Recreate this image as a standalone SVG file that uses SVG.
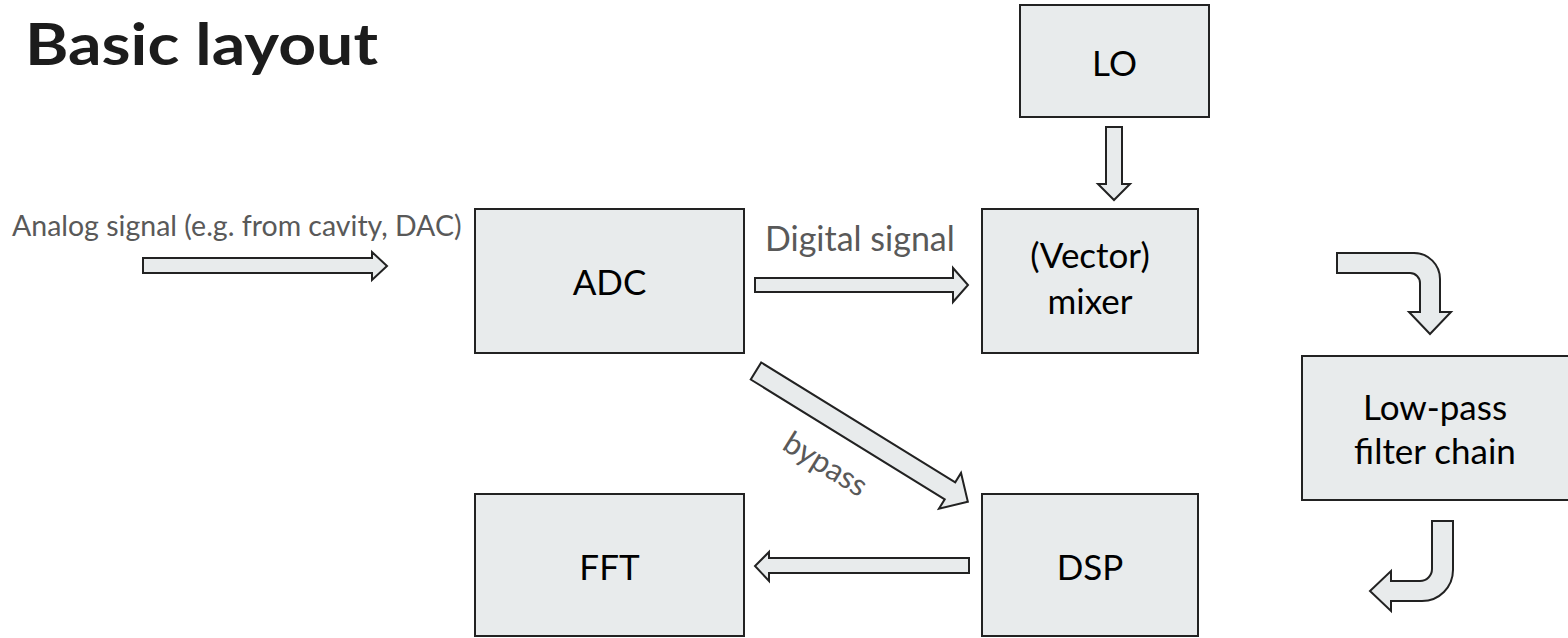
<svg xmlns="http://www.w3.org/2000/svg" width="1568" height="638" viewBox="0 0 1568 638">
<style>
.box{fill:#e8ebec;stroke:#222;stroke-width:2}
.arr{fill:#e8ebec;stroke:#222;stroke-width:2;stroke-linejoin:miter}
.lbl{font-family:Lato,"Liberation Sans",sans-serif;font-size:35px;fill:#000;text-anchor:middle}
.gray{font-family:Lato,"Liberation Sans",sans-serif;fill:#595959}
.title{font-family:Lato,"Liberation Sans",sans-serif;font-weight:700;font-size:58px;fill:#1c1c1c}
</style>
<rect width="1568" height="638" fill="#fff"/>
<text class="title" x="25" y="65" textLength="353" lengthAdjust="spacingAndGlyphs">Basic layout</text>

<g id="LO">
<rect class="box" x="1020" y="5" width="189" height="112"/>
<text class="lbl" x="1114.5" y="76">LO</text>
</g>
<g id="ADC">
<rect class="box" x="475" y="209" width="269" height="144"/>
<text class="lbl" x="609.5" y="295">ADC</text>
</g>
<g id="mixer">
<rect class="box" x="982" y="209" width="216" height="144"/>
<text class="lbl" x="1090" y="268">(Vector)</text>
<text class="lbl" x="1090" y="314">mixer</text>
</g>
<g id="lowpass">
<rect class="box" x="1302" y="356" width="280" height="144"/>
<text class="lbl" x="1435" y="420">Low-pass</text>
<text class="lbl" x="1435" y="464">filter chain</text>
</g>
<g id="FFT">
<rect class="box" x="475" y="494" width="269" height="142"/>
<text class="lbl" x="609.5" y="580">FFT</text>
</g>
<g id="DSP">
<rect class="box" x="982" y="494" width="216" height="142"/>
<text class="lbl" x="1090" y="580">DSP</text>
</g>

<g id="connectors">
<text class="gray" x="12" y="236" font-size="28.5">Analog signal (e.g. from cavity, DAC)</text>
<polygon class="arr" points="143,258 372,258 372,252 387,266 372,280 372,273 143,273"/>
<text class="gray" x="765" y="251" font-size="34">Digital signal</text>
<polygon class="arr" points="755,278 953,278 953,268 968,285 953,302 953,292 755,292"/>
<polygon class="arr" points="1106,127 1122,127 1122,184 1130,184 1114,200 1098,184 1106,184"/>
<g transform="translate(756,371) rotate(31.7)">
<polygon class="arr" points="0,-10 228,-10 228,-21 249,0 228,21 228,10 0,10"/>
</g>
<text class="gray" x="0" y="0" font-size="31" text-anchor="middle" transform="translate(820,473) rotate(32)">bypass</text>
<polygon class="arr" points="969,558 769,558 769,552 755,566 769,581 769,573 969,573"/>
<path class="arr" d="M1337,253 H1414 A26,26 0 0 1 1440,279 V312 H1451 L1430,334 L1409,312 H1420 V283 A10,10 0 0 0 1410,273 H1337 Z"/>
<path class="arr" d="M1432,521 H1453 V570 A31,31 0 0 1 1422,601 H1391 V611 L1370,591 L1391,571 V581 H1420 A12,12 0 0 0 1432,569 Z"/>
</g>
</svg>
